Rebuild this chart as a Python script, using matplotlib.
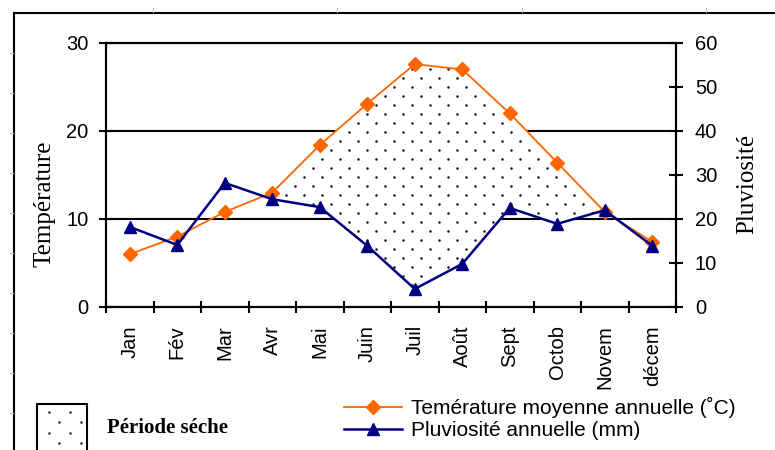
import numpy as np
import matplotlib
matplotlib.use("Agg")
import matplotlib.pyplot as plt
from matplotlib.lines import Line2D
from matplotlib.patches import Rectangle

# data
months = ['Jan', 'Fév', 'Mar', 'Avr', 'Mai', 'Juin', 'Juil', 'Août',
          'Sept', 'Octob', 'Novem', 'décem']
temperature = [6.0, 8.0, 10.8, 13.0, 18.4, 23.1, 27.6, 27.0, 22.0, 16.4, 10.8, 7.4]
rainfall = [18.2, 14.1, 28.2, 24.5, 22.7, 13.9, 4.1, 9.8, 22.5, 18.9, 22.0, 13.9]
# months of the shaded dry season (the fill runs out to the curve crossings)
dry_season = [False, False, False, True, True, True, True, True, True, True, False, False]
temp_ticks = [0, 10, 20, 30]
rain_ticks = [0, 10, 20, 30, 40, 50, 60]

ORANGE = '#FF6600'
NAVY = '#000080'
SERIF = ['Liberation Serif', 'DejaVu Serif']
plt.rcParams['font.family'] = ['Liberation Sans', 'DejaVu Sans']

W, H = 775, 450


def fx(px):
    return px / W


def fy(py):
    return 1 - py / H


fig = plt.figure(figsize=(W / 100, H / 100), dpi=100)
ax = fig.add_axes([fx(106), fy(307), 570 / W, 264 / H])
ax2 = ax.twinx()

x = np.arange(len(months))
ax.set_xlim(-0.5, len(months) - 0.5)
ax.set_ylim(0, 30)
ax2.set_ylim(0, 60)

# horizontal gridlines, kept under the dry-period fill
ax.set_yticks(temp_ticks)
ax.yaxis.grid(True, color='black', lw=1.5, zorder=0.2)
ax.set_axisbelow(True)

# dry period: temperature curve above the rainfall curve (P < 2T)
rain_pts = np.column_stack([x, rainfall])
rain_on_temp = ax.transData.inverted().transform(ax2.transData.transform(rain_pts))[:, 1]
temp_arr = np.array(temperature)
mask = (temp_arr > rain_on_temp) & np.array(dry_season)
dry = ax.fill_between(x, rain_on_temp, temp_arr, where=mask, interpolate=True,
                      facecolor='white', edgecolor='none', zorder=2)


def dot_grid(x0, x1, y0, y1, dx, dy):
    xs, ys = [], []
    for i, yy in enumerate(np.arange(y0, y1, dy)):
        off = dx / 2 if i % 2 else 0
        for xx in np.arange(x0 + off, x1, dx):
            xs.append(xx)
            ys.append(yy)
    return xs, ys


# dotted texture inside the dry area (in axes fraction)
dxs, dys = dot_grid(0, 1, 4 / 264, 1, 18 / 570, 9 / 264)
dots, = ax.plot(dxs, dys, 'o', color='#111111', ms=1.8, mew=0,
                transform=ax.transAxes, zorder=2.5)
dots.set_clip_path(dry.get_paths()[0], ax.transData)

temp_line, = ax.plot(x, temperature, color=ORANGE, lw=1.3, marker='D', ms=7,
                     zorder=3)
rain_line, = ax2.plot(x, rainfall, color=NAVY, lw=1.8, marker='^', ms=9,
                      zorder=3)

# axes styling
for a in (ax, ax2):
    for s in a.spines.values():
        s.set_linewidth(1.5)
        s.set_color('black')

ax.set_xticks(x, months, rotation=90)
ax.set_xticks(np.arange(len(months) + 1) - 0.5, minor=True)
ax.tick_params(axis='x', which='major', length=0, pad=13, labelsize=14.5)
ax.tick_params(axis='x', which='minor', direction='inout', length=9, width=1.5)
ax.tick_params(axis='y', direction='inout', length=9.5, width=1.5, pad=8,
               labelsize=14.5)

ax2.set_yticks(rain_ticks)
ax2.tick_params(axis='y', direction='inout', length=10, width=1.5, pad=8.5,
                labelsize=14.5)

fig.text(fx(45), fy(204), 'Température', rotation=90, ha='center', va='center',
         family=SERIF, fontsize=18)
fig.text(fx(747), fy(184), 'Pluviosité', rotation=90, ha='center', va='center',
         family=SERIF, fontsize=18)

# series legend
fig.legend([temp_line, rain_line],
           ['Temérature moyenne annuelle (˚C)', 'Pluviosité annuelle (mm)'],
           loc='upper left', bbox_to_anchor=(fx(344), fy(397)), frameon=False,
           fontsize=15, handlelength=2.8, handletextpad=0.4,
           labelspacing=0.15, borderpad=0, borderaxespad=0)

# "Période séche" key
box = Rectangle((fx(37), fy(460)), 50 / W, 56 / H, transform=fig.transFigure,
                facecolor='white', edgecolor='black', lw=1.5)
fig.add_artist(box)
bx, by = dot_grid(39, 87, 412, 455, 21, 10.3)
key_dots = Line2D([fx(v + 10) for v in bx], [fy(v) for v in by], ls='none',
                  marker='o', color='#222222', ms=1.8, mew=0,
                  transform=fig.transFigure)
fig.add_artist(key_dots)
key_dots.set_clip_path(box)
fig.text(fx(107), fy(428), 'Période séche', ha='left', va='center',
         family=SERIF, fontsize=15, fontweight='bold')

# outer chart frame with the faint ruler marks
fig.add_artist(Line2D([fx(14), fx(14)], [0, fy(13)], color='black', lw=1.5,
                      transform=fig.transFigure))
fig.add_artist(Line2D([fx(14), 1], [fy(13), fy(13)], color='black', lw=1.5,
                      transform=fig.transFigure))
for px in (153, 337, 522, 706):
    fig.add_artist(Line2D([fx(px), fx(px)], [fy(8), fy(12)], color='#bbbbbb',
                          lw=0.8, transform=fig.transFigure))
for py in range(53, 450, 40):
    fig.add_artist(Line2D([fx(10), fx(13)], [fy(py), fy(py)], color='#bbbbbb',
                          lw=0.8, transform=fig.transFigure))

fig.savefig('out.png', dpi=100)
